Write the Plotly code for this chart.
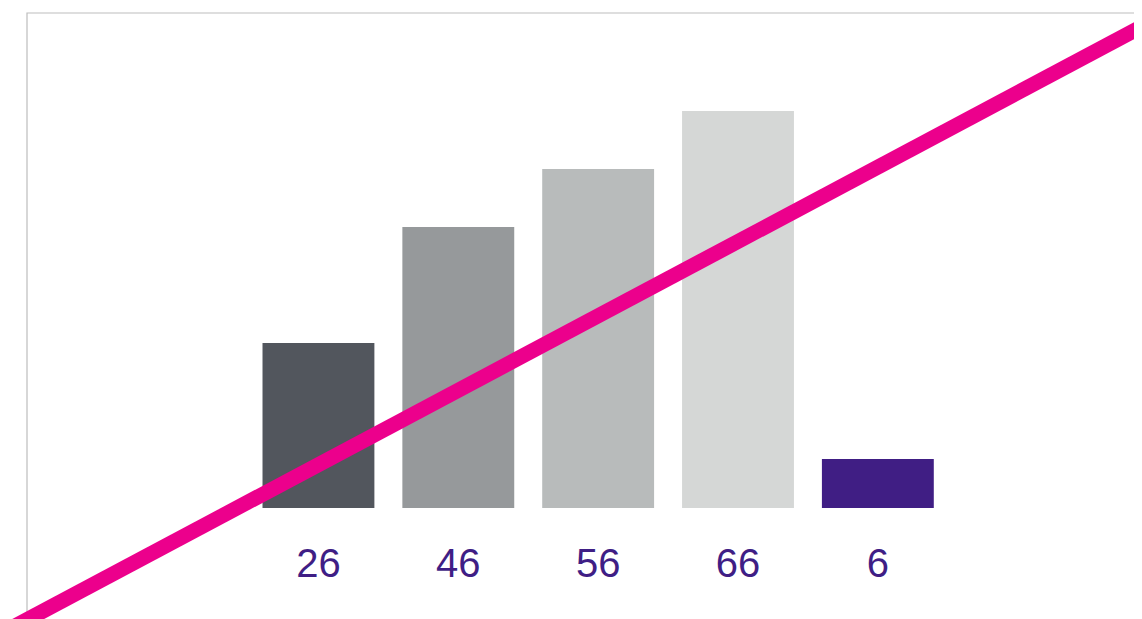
import plotly.graph_objects as go

# Data
categories = ["A", "B", "C", "D", "E"]
values = [26, 46, 56, 66, 6]
labels = ["26", "46", "56", "66", "6"]

# Styles
bar_colors = ["#52565d", "#96999b", "#b8bbbb", "#d5d7d6", "#401e84"]
label_color = "#3f1e85"
pink = "#ec008c"
frame_color = "#bdbdbd"
base_offset = 2.45
label_y = -12.62

fig = go.Figure()
fig.add_trace(go.Bar(
    x=categories,
    y=[v + base_offset for v in values],
    base=-base_offset,
    marker=dict(color=bar_colors, line=dict(width=0)),
    width=0.8,
    hoverinfo="skip",
))
fig.add_trace(go.Scatter(
    x=categories,
    y=[label_y] * len(categories),
    text=labels,
    mode="text",
    textposition="middle center",
    textfont=dict(family="Liberation Sans, Arial, sans-serif", size=40, color=label_color),
    hoverinfo="skip",
))

# frame (left and top edges visible)
fig.add_shape(type="rect", xref="paper", yref="paper", x0=0, y0=0, x1=1, y1=1,
              line=dict(color=frame_color, width=1.2), layer="below")
# pink strike line across the whole chart
fig.add_shape(type="line", xref="paper", yref="paper", x0=-0.02404, y0=-0.0114, x1=1.0089, y1=0.99349,
              line=dict(color=pink, width=15), layer="above")

fig.update_layout(
    width=1142, height=619,
    margin=dict(l=19, r=0, t=5, b=0),
    paper_bgcolor="white", plot_bgcolor="white",
    showlegend=False,
    xaxis=dict(range=[-2.084, 5.946], showticklabels=False, showgrid=False, zeroline=False, showline=False),
    yaxis=dict(range=[-22.97, 82.9], showticklabels=False, showgrid=False, zeroline=False, showline=False),
    bargap=0.2,
)

fig.write_html("out.html")
